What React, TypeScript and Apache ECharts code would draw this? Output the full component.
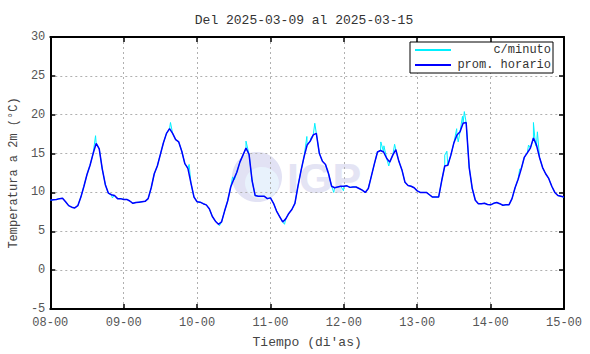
import React, { useEffect, useRef } from "react";
import * as echarts from "echarts";

const titleText = "Del 2025-03-09 al 2025-03-15";
const dayLabels = ["08-00", "09-00", "10-00", "11-00", "12-00", "13-00", "14-00", "15-00"];
const yTicks = { min: -5, max: 30, interval: 5 };

// hourly averages (prom. horario), one array per day, 24 values each
const day08 = [9.0, 9.05, 9.1, 9.2, 9.25, 8.8, 8.3, 8.1, 8.0, 8.3, 9.4, 10.8, 12.3, 13.5, 15.0, 16.3, 15.6, 13.0, 11.0, 9.9, 9.7, 9.6, 9.2, 9.2];
const day09 = [9.1, 9.1, 8.9, 8.6, 8.7, 8.75, 8.8, 8.85, 9.2, 10.6, 12.4, 13.4, 14.9, 16.4, 17.6, 18.2, 17.6, 16.8, 16.5, 15.3, 13.7, 13.1, 11.2, 9.4];
const day10 = [8.8, 8.75, 8.55, 8.4, 7.9, 6.9, 6.3, 5.9, 6.2, 7.6, 8.9, 10.7, 11.7, 12.6, 13.9, 14.8, 15.7, 14.9, 11.5, 9.6, 9.5, 9.5, 9.5, 9.2];
const day11 = [9.3, 8.6, 7.6, 6.9, 6.2, 6.6, 7.3, 7.8, 8.6, 10.8, 12.8, 14.6, 16.1, 16.6, 17.4, 17.6, 15.0, 14.0, 13.6, 12.4, 10.8, 10.6, 10.7, 10.8];
const day12 = [10.8, 10.85, 10.65, 10.7, 10.7, 10.5, 10.3, 10.0, 10.5, 12.1, 13.7, 15.2, 15.4, 15.2, 14.4, 13.9, 14.8, 15.5, 14.0, 12.9, 11.3, 10.9, 10.8, 10.6];
const day13 = [10.2, 10.0, 10.0, 10.0, 9.7, 9.4, 9.4, 9.4, 11.5, 13.4, 13.5, 14.8, 16.4, 17.4, 17.8, 18.9, 19.0, 13.2, 10.5, 9.0, 8.55, 8.55, 8.6, 8.45];
const day14 = [8.4, 8.6, 8.7, 8.55, 8.35, 8.4, 8.4, 9.2, 10.6, 11.7, 13.0, 14.5, 15.1, 15.7, 17.0, 16.1, 14.5, 13.2, 12.4, 11.8, 10.8, 10.0, 9.6, 9.5];
const lastValue = [9.4];

// minute readings that stand out from the hourly curve: [hours since 08-00, °C]
const minuteSpikes = [
  [14.8, 17.3], [15.3, 16.2], [20.3, 9.3],
  [39.3, 19.0], [40.1, 17.6], [41.4, 16.7], [45.4, 13.6],
  [55.3, 5.7], [59.6, 12.0], [60.2, 11.6], [64.0, 16.6],
  [76.6, 5.9], [83.9, 17.2], [85.2, 17.0], [86.5, 18.9], [92.7, 10.0], [95.9, 10.2],
  [108.1, 16.5], [109.1, 16.0], [110.7, 13.4], [112.6, 16.2],
  [129.0, 14.8], [129.7, 15.3], [132.9, 18.2], [133.4, 16.5], [134.8, 19.8], [135.4, 20.4],
  [153.5, 13.0], [156.4, 16.1], [158.0, 19.0], [158.7, 16.0], [159.3, 17.8],
];

const seriesNames = ["c/minuto", "prom. horario"];

const MONO = "'Liberation Mono', 'DejaVu Sans Mono', monospace";

export default function App() {
  const ref = useRef<HTMLDivElement>(null);

  useEffect(() => {
    if (!ref.current) return;
    const chart = echarts.init(ref.current, null, { renderer: "svg" });

    const hourly = [...day08, ...day09, ...day10, ...day11, ...day12, ...day13, ...day14, ...lastValue];
    const hourlyData = hourly.map((v, i) => [i, v]);
    const minuteData = [...hourlyData, ...minuteSpikes].sort((a, b) => a[0] - b[0]);
    const xMax = (dayLabels.length - 1) * 24;

    const axisLine = { show: true, onZero: false, lineStyle: { color: "#000", width: 2 } };
    const axisTick = { show: true, inside: true, length: 5, lineStyle: { color: "#000", width: 1.5 } };
    const gridLine = { show: true, lineStyle: { color: "#b0b0b0", type: [2, 3], width: 1 } };
    const labelStyle = { fontFamily: MONO, fontSize: 12, color: "#555" };

    chart.setOption({
      animation: false,
      backgroundColor: "#fff",
      title: {
        text: titleText,
        left: 299,
        top: 9,
        textAlign: "center",
        textStyle: { fontFamily: MONO, fontSize: 13, fontWeight: "normal", color: "#333" },
      },
      graphic: [
        {
          type: "group",
          z: -10,
          silent: true,
          children: [
            { type: "circle", shape: { cx: 257, cy: 177, r: 25 }, style: { fill: "#e2e2f4" } },
            { type: "ellipse", shape: { cx: 262, cy: 183, rx: 17, ry: 16 }, style: { fill: "#e8f2fc" } },
            {
              type: "text",
              x: 287,
              y: 178,
              style: {
                text: "IGP",
                fontFamily: "'Liberation Sans', Arial, sans-serif",
                fontWeight: "bold",
                fontSize: 43,
                fill: "#e4e4f4",
                verticalAlign: "middle",
                align: "left",
              },
            },
          ],
        },
      ],
      legend: {
        show: true,
        left: 410,
        top: 42,
        orient: "vertical",
        padding: [2, 2, 2, 4],
        itemGap: 3,
        itemWidth: 36,
        itemHeight: 10,
        borderColor: "#000",
        borderWidth: 1,
        borderRadius: 0,
        backgroundColor: "#fff",
        data: seriesNames,
        itemStyle: { opacity: 0 },
        formatter: (name: string) => `{a|${name}}`,
        textStyle: {
          fontFamily: MONO,
          fontSize: 12,
          color: "#333",
          rich: { a: { width: 95, align: "right", fontFamily: MONO, fontSize: 12, color: "#333" } },
        },
      },
      grid: { left: 42, right: 26, top: 37, bottom: 41, containLabel: false },
      xAxis: [
        {
          type: "value",
          position: "bottom",
          min: 0,
          max: xMax,
          interval: 24,
          name: "Tiempo (di'as)",
          nameLocation: "middle",
          nameGap: 27,
          nameTextStyle: { fontFamily: MONO, fontSize: 13, color: "#444" },
          axisLine,
          axisTick,
          splitLine: gridLine,
          axisLabel: {
            ...labelStyle,
            margin: 8,
            formatter: (v: number) => dayLabels[Math.round(v / 24)] ?? "",
          },
        },
        {
          type: "value",
          position: "top",
          min: 0,
          max: xMax,
          interval: 24,
          axisLine,
          axisTick,
          splitLine: { show: false },
          axisLabel: { show: false },
        },
      ],
      yAxis: [
        {
          type: "value",
          position: "left",
          min: yTicks.min,
          max: yTicks.max,
          interval: yTicks.interval,
          name: "Temperatura a 2m (°C)",
          nameLocation: "middle",
          nameGap: 29,
          nameTextStyle: { fontFamily: MONO, fontSize: 12, color: "#444" },
          axisLine,
          axisTick,
          splitLine: gridLine,
          axisLabel: { ...labelStyle, margin: 5 },
        },
        {
          type: "value",
          position: "right",
          min: yTicks.min,
          max: yTicks.max,
          interval: yTicks.interval,
          axisLine,
          axisTick,
          splitLine: { show: false },
          axisLabel: { show: false },
        },
      ],
      series: [
        {
          name: seriesNames[0],
          type: "line",
          data: minuteData,
          symbol: "none",
          lineStyle: { color: "#00f0ff", width: 1 },
          itemStyle: { color: "#00f0ff" },
          z: 2,
        },
        {
          name: seriesNames[1],
          type: "line",
          data: hourlyData,
          symbol: "none",
          lineStyle: { color: "#0000ff", width: 1.5 },
          itemStyle: { color: "#0000ff" },
          z: 3,
        },
      ],
    });

    return () => chart.dispose();
  }, []);

  return (
    <div
      ref={ref}
      style={{ position: "fixed", left: 0, top: 0, width: 590, height: 354 }}
    />
  );
}
